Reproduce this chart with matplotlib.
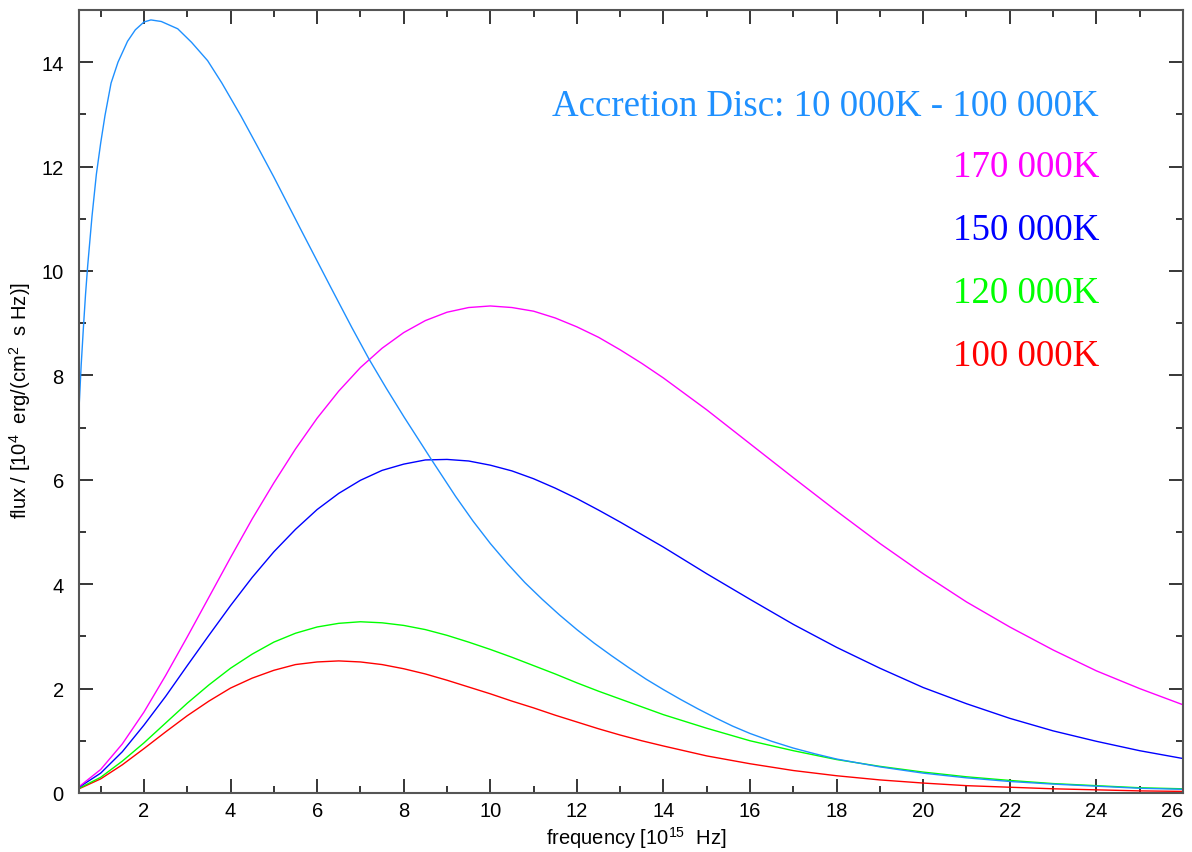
import matplotlib
matplotlib.use("Agg")
import matplotlib.pyplot as plt
from matplotlib.ticker import MultipleLocator

# frequency grid [10^15 Hz] shared by the four black-body curves
freq = [0.5, 1, 1.5, 2, 2.5, 3, 3.5, 4, 4.5, 5, 5.5, 6, 6.5, 7, 7.5, 8,
        8.5, 9, 9.5, 10, 10.5, 11, 11.5, 12, 12.5, 13, 13.5, 14,
        15, 16, 17, 18, 19, 20, 21, 22, 23, 24, 25, 26]

flux_100k = [0.08, 0.27, 0.54, 0.85, 1.17, 1.48, 1.76, 2.01, 2.20, 2.35,
             2.46, 2.51, 2.53, 2.51, 2.46, 2.38,
             2.28, 2.16, 2.03, 1.90, 1.76, 1.63, 1.49, 1.36, 1.23, 1.11,
             1.00, 0.90,
             0.71, 0.56, 0.43, 0.33, 0.25, 0.19, 0.14, 0.11, 0.08, 0.06,
             0.04, 0.03]
flux_120k = [0.09, 0.30, 0.61, 0.96, 1.34, 1.72, 2.07, 2.39, 2.66, 2.89,
             3.06, 3.18, 3.25, 3.28, 3.26, 3.21,
             3.13, 3.02, 2.89, 2.75, 2.60, 2.44, 2.28, 2.11, 1.95, 1.80,
             1.65, 1.50,
             1.24, 1.00, 0.81, 0.64, 0.51, 0.40, 0.31, 0.24, 0.18, 0.14,
             0.10, 0.08]
flux_150k = [0.11, 0.38, 0.79, 1.30, 1.85, 2.44, 3.02, 3.59, 4.13, 4.62,
             5.05, 5.43, 5.74, 5.99, 6.18, 6.30,
             6.38, 6.39, 6.36, 6.28, 6.17, 6.02, 5.84, 5.64, 5.42, 5.19,
             4.95, 4.71,
             4.20, 3.71, 3.23, 2.79, 2.39, 2.02, 1.71, 1.43, 1.19, 0.99,
             0.81, 0.66]
flux_170k = [0.12, 0.45, 0.94, 1.55, 2.25, 2.99, 3.75, 4.51, 5.25, 5.94,
             6.59, 7.18, 7.70, 8.15, 8.52, 8.82,
             9.05, 9.21, 9.30, 9.33, 9.30, 9.23, 9.10, 8.93, 8.73, 8.49,
             8.23, 7.95,
             7.34, 6.69, 6.04, 5.40, 4.78, 4.20, 3.66, 3.18, 2.74, 2.34,
             2.00, 1.69]

# accretion disc spectrum, read on its own frequency points
disc_freq = [0.5, 0.55, 0.6, 0.65, 0.7, 0.8, 0.9, 1.0, 1.1, 1.24,
             1.4, 1.62, 1.8, 2.0, 2.16, 2.4, 2.78, 3.1, 3.47, 3.8,
             4.24, 4.6, 5.0, 5.62, 6.32, 6.8, 7.2, 7.6, 8.01, 8.63,
             9.2, 9.6, 10.0, 10.4, 10.8, 11.2, 11.6, 12.0, 12.4, 12.8,
             13.2, 13.6, 14.0, 14.4, 14.8, 15.2, 15.6, 16.0, 16.5, 17.0,
             17.5, 18, 19, 20, 21, 22, 23, 24, 25, 26]
disc_flux = [7.37, 8.2, 8.9, 9.55, 10.1, 11.05, 11.85, 12.45, 12.98, 13.6,
             14.0, 14.4, 14.62, 14.77, 14.81, 14.78, 14.64, 14.38, 14.03, 13.6,
             12.97, 12.42, 11.8, 10.8, 9.68, 8.92, 8.31, 7.75, 7.2, 6.4,
             5.68, 5.21, 4.78, 4.39, 4.03, 3.71, 3.41, 3.13, 2.87, 2.63,
             2.40, 2.18, 1.98, 1.79, 1.61, 1.44, 1.28, 1.14, 0.99, 0.86,
             0.75, 0.65, 0.50, 0.38, 0.29, 0.22, 0.17, 0.13, 0.09, 0.07]

labels = ["Accretion Disc: 10 000K - 100 000K", "170 000K", "150 000K",
          "120 000K", "100 000K"]
colors = ["#1e90ff", "#ff00ff", "#0000ff", "#00ff00", "#ff0000"]
xticks = [2, 4, 6, 8, 10, 12, 14, 16, 18, 20, 22, 24, 26]

plt.rcParams["font.family"] = ["Liberation Sans", "DejaVu Sans"]
plt.rcParams["mathtext.default"] = "regular"

fig = plt.figure(figsize=(11.92, 8.53), dpi=100)
ax = fig.add_axes([0.0663, 0.0692, 0.9261, 0.9179])

# draw the black bodies first, disc on top
ax.plot(freq, flux_100k, color=colors[4], lw=1.0)
ax.plot(freq, flux_120k, color=colors[3], lw=1.0)
ax.plot(freq, flux_150k, color=colors[2], lw=1.0)
ax.plot(freq, flux_170k, color=colors[1], lw=1.0)
ax.plot(disc_freq, disc_flux, color=colors[0], lw=1.0)

ax.set_xlim(0.5, 26)
ax.set_ylim(0, 15)
ax.set_xticks(xticks, [str(t) for t in xticks])
ax.xaxis.set_minor_locator(MultipleLocator(1))
ax.yaxis.set_major_locator(MultipleLocator(2))
ax.yaxis.set_minor_locator(MultipleLocator(1))

ax.tick_params(which="both", direction="in", top=True, right=True,
               width=1.1, colors="black", labelsize=14.5)
ax.tick_params(which="major", length=10)
ax.tick_params(which="minor", length=5)
ax.tick_params(axis="x", pad=6)
ax.tick_params(axis="y", pad=11)
# last x label sits inside the frame, as in the original
ax.get_xticklabels()[-1].set_horizontalalignment("right")
for sp in ax.spines.values():
    sp.set_color("#555555")
    sp.set_linewidth(1.5)

ax.set_xlabel("frequency [10$^{15}$  Hz]", fontsize=14.5)
ax.set_ylabel("flux / [10$^{4}$  erg/(cm$^{2}$  s Hz)]", fontsize=14.5)
ax.xaxis.set_label_coords(0.505, -0.040)
ax.yaxis.set_label_coords(-0.042, 0.503)

# labels in the upper right, right aligned
text_y = [0.866, 0.788, 0.7075, 0.627, 0.5466]
for lab, col, ty in zip(labels, colors, text_y):
    ax.text(0.924, ty, lab, color=col, fontsize=26.6, ha="right", va="baseline",
            family="Liberation Serif", transform=ax.transAxes)

fig.savefig("out.png", dpi=100)
